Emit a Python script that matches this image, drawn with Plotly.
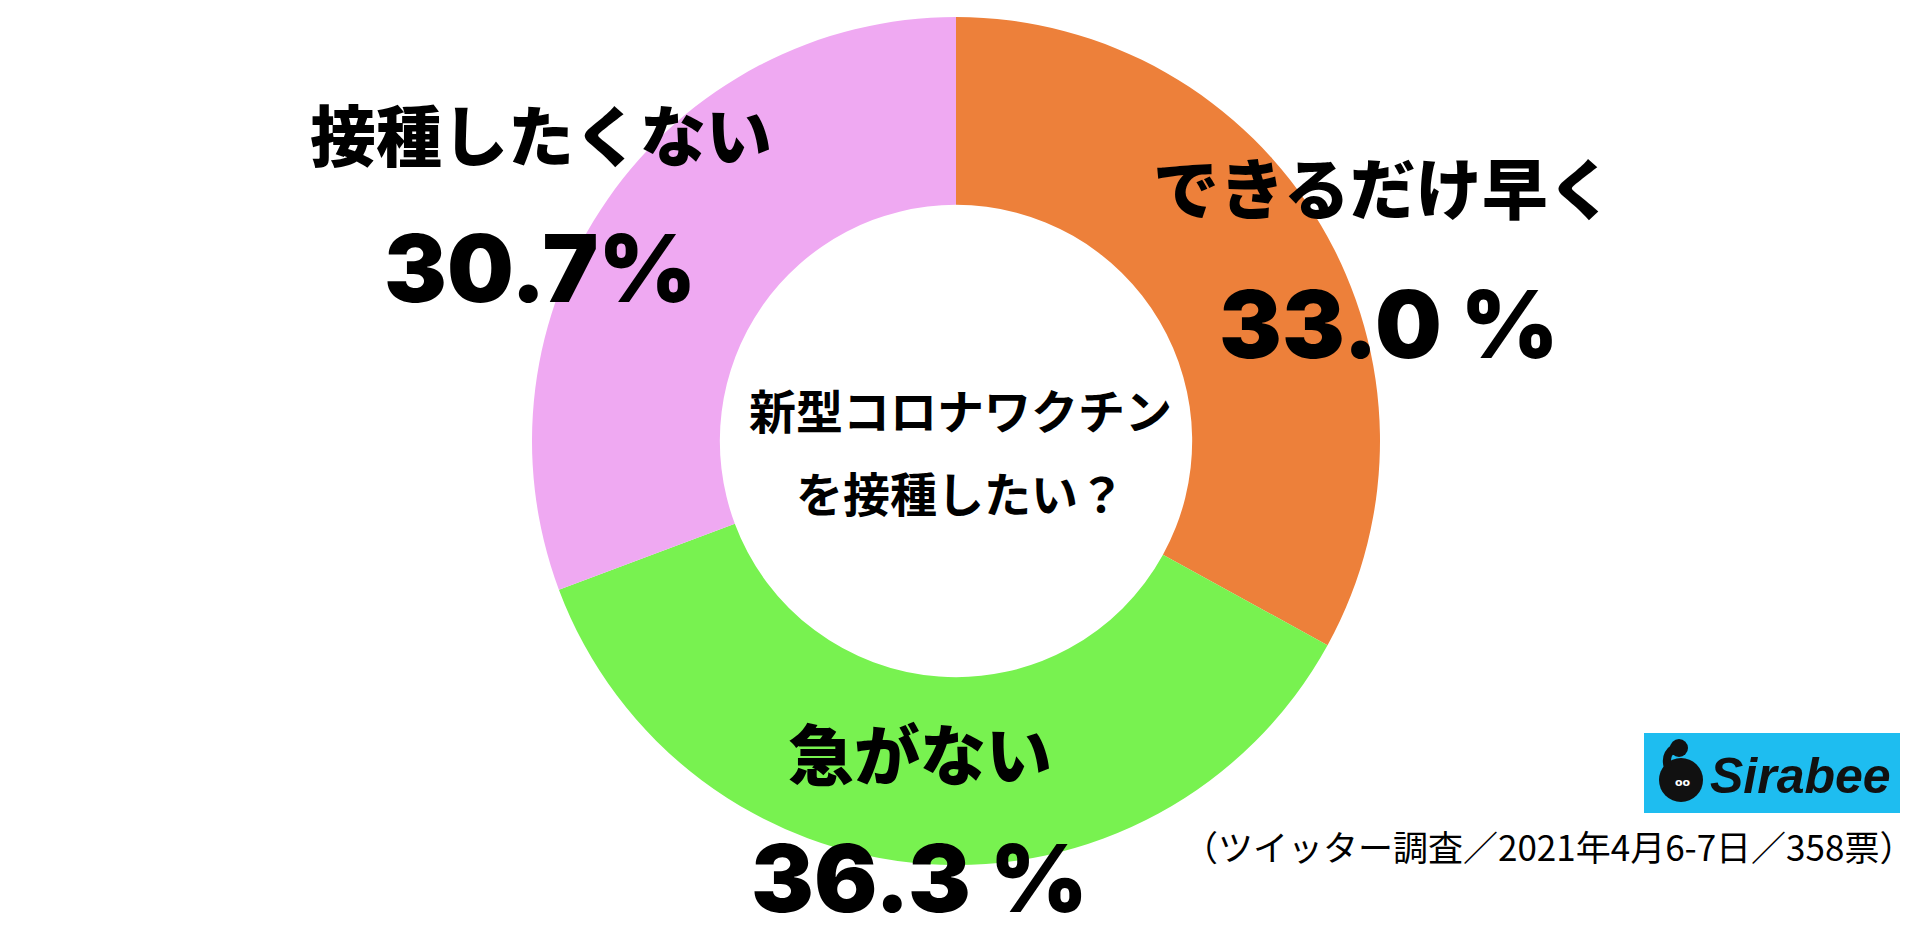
import plotly.graph_objects as go

W, H = 1932, 938

# ---- data ----
categories = ["できるだけ早く", "急がない", "接種したくない"]
values = [33.0, 36.3, 30.7]
value_labels = ["33.0 %", "36.3 %", "30.7%"]
colors = ["#ED803A", "#78F250", "#EFA9F2"]
center_title = ["新型コロナワクチン", "を接種したい？"]
footnote = "（ツイッター調査／2021年4月6-7日／358票）"
brand = "Sirabee"

# ---- layout helpers (pixel -> paper) ----
def px(x):
    return x / W

def py(y):
    return 1 - y / H

cx, cy, R = 956, 441, 424

fig = go.Figure(go.Pie(
    labels=categories,
    values=values,
    sort=False,
    direction="clockwise",
    rotation=0,
    hole=0.557,
    marker=dict(colors=colors, line=dict(width=0)),
    textinfo="none",
    hoverinfo="label+percent",
    showlegend=False,
    domain=dict(x=[px(cx - R), px(cx + R)], y=[py(cy + R), py(cy - R)]),
))

JP = "Noto Sans CJK JP"
NUM = "Inter"

cat_pos = [(1383, 185), (920, 751), (541, 132)]
val_pos = [(1389, 324), (919, 878), (540, 268)]

annotations = []
for cat, vlab, (xc, yc), (xv, yv) in zip(categories, value_labels, cat_pos, val_pos):
    annotations.append(dict(
        x=px(xc), y=py(yc), xref="paper", yref="paper", showarrow=False,
        text=cat, xanchor="center", yanchor="middle",
        font=dict(family=JP, size=66, color="#000000", weight=900),
    ))
    annotations.append(dict(
        x=px(xv), y=py(yv), xref="paper", yref="paper", showarrow=False,
        text=vlab, xanchor="center", yanchor="middle",
        font=dict(family=NUM, size=94, color="#000000", weight=900),
    ))

for line, yy in zip(center_title, [409, 491]):
    annotations.append(dict(
        x=px(960), y=py(yy), xref="paper", yref="paper", showarrow=False,
        text=line, xanchor="center", yanchor="middle",
        font=dict(family=JP, size=47, color="#000000", weight=700),
    ))

annotations.append(dict(
    x=px(1548), y=py(845), xref="paper", yref="paper", showarrow=False,
    text=footnote, xanchor="center", yanchor="middle",
    font=dict(family=JP, size=35, color="#000000"),
))

annotations.append(dict(
    x=px(1800), y=py(776), xref="paper", yref="paper", showarrow=False,
    text="<i><b>" + brand + "</b></i>", xanchor="center", yanchor="middle",
    font=dict(family="Liberation Sans", size=50, color="#111111"),
))
annotations.append(dict(
    x=px(1683), y=py(782), xref="paper", yref="paper", showarrow=False,
    text="oo", xanchor="center", yanchor="middle",
    font=dict(family="DejaVu Sans", size=11, color="#ffffff", weight=700),
))

shapes = [
    dict(type="rect", xref="paper", yref="paper",
         x0=px(1644), x1=px(1900), y0=py(813), y1=py(733),
         fillcolor="#1EBDF0", line=dict(width=0), layer="below"),
    dict(type="circle", xref="paper", yref="paper",
         x0=px(1659), x1=px(1703), y0=py(802), y1=py(758),
         fillcolor="#111111", line=dict(width=0)),
    dict(type="path", xref="paper", yref="paper",
         path=f"M {px(1668)} {py(768)} Q {px(1664)} {py(755)} {px(1674)} {py(748)}",
         line=dict(color="#111111", width=8)),
    dict(type="circle", xref="paper", yref="paper",
         x0=px(1670), x1=px(1688), y0=py(757), y1=py(739),
         fillcolor="#111111", line=dict(width=0)),
]

fig.update_layout(
    width=W, height=H,
    margin=dict(l=0, r=0, t=0, b=0),
    paper_bgcolor="#ffffff",
    plot_bgcolor="#ffffff",
    annotations=annotations,
    shapes=shapes,
)

fig.write_html("out.html")
